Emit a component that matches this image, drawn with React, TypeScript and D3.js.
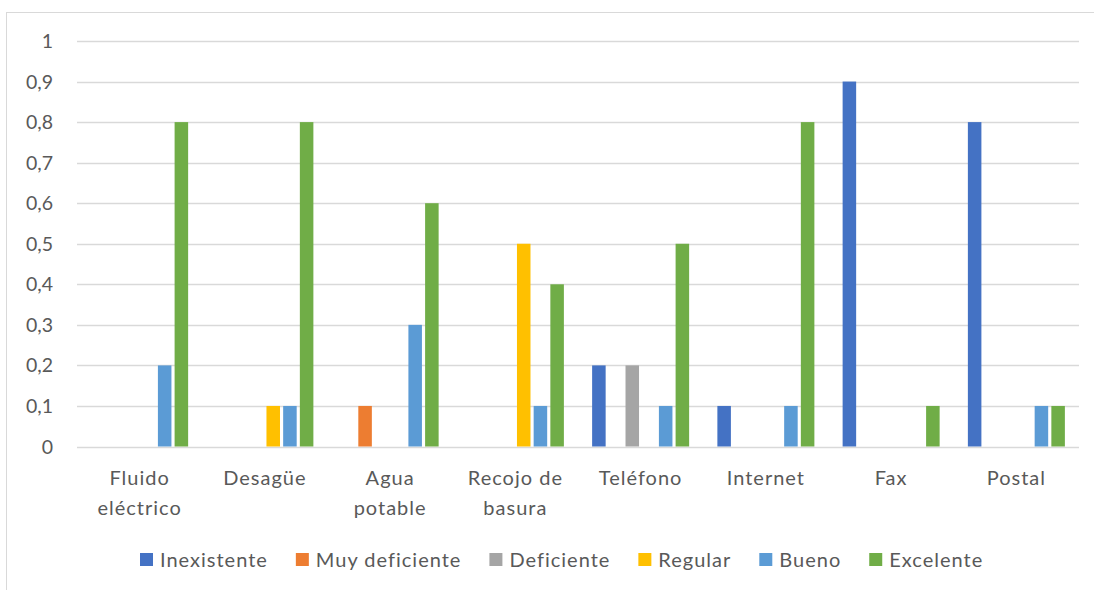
import React, { useEffect, useRef } from "react";
import * as d3 from "d3";

const categories = [
  ["Fluido", "eléctrico"],
  ["Desagüe"],
  ["Agua", "potable"],
  ["Recojo de", "basura"],
  ["Teléfono"],
  ["Internet"],
  ["Fax"],
  ["Postal"],
];
const seriesNames = ["Inexistente", "Muy deficiente", "Deficiente", "Regular", "Bueno", "Excelente"];
const seriesColors = ["#4472C4", "#ED7D31", "#A5A5A5", "#FFC000", "#5B9BD5", "#70AD47"];
const inexistente = [0, 0, 0, 0, 0.2, 0.1, 0.9, 0.8];
const muyDeficiente = [0, 0, 0.1, 0, 0, 0, 0, 0];
const deficiente = [0, 0, 0, 0, 0.2, 0, 0, 0];
const regular = [0, 0.1, 0, 0.5, 0, 0, 0, 0];
const bueno = [0.2, 0.1, 0.3, 0.1, 0.1, 0.1, 0, 0.1];
const excelente = [0.8, 0.8, 0.6, 0.4, 0.5, 0.8, 0.1, 0.1];
const seriesValues = [inexistente, muyDeficiente, deficiente, regular, bueno, excelente];
const yTicks = [0, 0.1, 0.2, 0.3, 0.4, 0.5, 0.6, 0.7, 0.8, 0.9, 1];

const W = 1094;
const H = 590;
const FONT = "Lato, 'Open Sans', sans-serif";
const TXT = "#595959";

export default function App() {
  const ref = useRef<SVGSVGElement>(null);
  useEffect(() => {
    const svg = d3.select(ref.current);
    svg.selectAll("*").remove();
    // chart border
    svg.append("rect").attr("x", 6.5).attr("y", 12.5).attr("width", 1200).attr("height", 700)
      .attr("fill", "#fff").attr("stroke", "#d9d9d9").attr("stroke-width", 1);

    const x0 = 77, x1 = 1079;
    const y = d3.scaleLinear().domain([0, 1]).range([446.5, 41]);
    const xBand = d3.scaleBand<number>().domain(d3.range(categories.length)).range([x0, x1]).padding(0);
    const cw = xBand.bandwidth();
    const step = cw * 0.1333;
    const bw = cw * 0.108;

    const g = svg.append("g");
    // gridlines
    g.selectAll("line.grid").data(yTicks).enter().append("line")
      .attr("x1", x0).attr("x2", x1)
      .attr("y1", (d) => Math.round(y(d)) + 0.5).attr("y2", (d) => Math.round(y(d)) + 0.5)
      .attr("stroke", "#d9d9d9").attr("stroke-width", 1.3);
    // tick labels
    g.selectAll("text.tick").data(yTicks).enter().append("text")
      .attr("x", 53).attr("y", (d) => y(d) + 7)
      .attr("text-anchor", "end").attr("font-family", FONT).attr("font-size", 19.5).attr("fill", TXT)
      .text((d) => d3.format(".1~f")(d).replace(".", ","));

    // bars
    seriesValues.forEach((vals, si) => {
      g.selectAll(null).data(vals.map((v, ci) => ({ v, ci }))).enter()
        .filter((d) => d.v > 0)
        .append("rect")
        .attr("x", (d) => (xBand(d.ci) as number) + cw / 2 + (si - 2.5) * step - bw / 2)
        .attr("width", bw)
        .attr("y", (d) => y(d.v))
        .attr("height", (d) => y(0) - y(d.v))
        .attr("fill", seriesColors[si]);
    });

    // category labels
    categories.forEach((lines, ci) => {
      const cx = (xBand(ci) as number) + cw / 2;
      const t = g.append("text").attr("text-anchor", "middle").attr("font-family", FONT)
        .attr("font-size", 20).attr("letter-spacing", 1).attr("fill", TXT);
      lines.forEach((ln, li) => {
        t.append("tspan").attr("x", cx).attr("y", 485 + li * 30).text(ln);
      });
    });

    // legend
    let lx = 140;
    seriesNames.forEach((name, si) => {
      g.append("rect").attr("x", lx).attr("y", 553).attr("width", 13).attr("height", 13).attr("fill", seriesColors[si]);
      const t = g.append("text").attr("x", lx + 20).attr("y", 567).attr("font-family", FONT)
        .attr("font-size", 20).attr("letter-spacing", 1).attr("fill", TXT).text(name);
      const w = (t.node() as SVGTextElement).getComputedTextLength();
      lx += 20 + w + 28;
    });
  }, []);
  return (
    <svg ref={ref} width={W} height={H} style={{ position: "absolute", left: 0, top: 0 }} />
  );
}
